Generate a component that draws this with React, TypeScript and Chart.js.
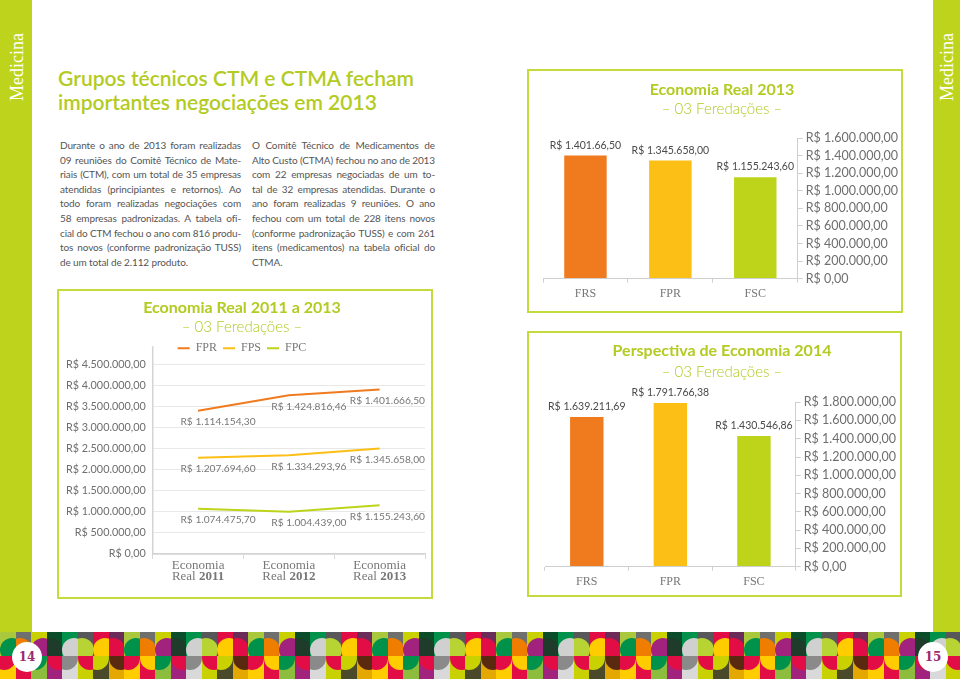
import React, { useEffect, useRef } from 'react';
import { Chart, registerables } from 'chart.js';

Chart.register(...registerables);

// ---------------- data ----------------
const lineCategories = ['2011', '2012', '2013'];
const fprValues = [1114154.3, 1424816.46, 1401666.5];
const fpsValues = [1207694.6, 1334293.96, 1345658.0];
const fpcValues = [1074475.7, 1004439.0, 1155243.6];
const fprLabels = ['R$ 1.114.154,30', 'R$ 1.424.816,46', 'R$ 1.401.666,50'];
const fpsLabels = ['R$ 1.207.694,60', 'R$ 1.334.293,96', 'R$ 1.345.658,00'];
const fpcLabels = ['R$ 1.074.475,70', 'R$ 1.004.439,00', 'R$ 1.155.243,60'];
const lineTickLabels = [
  'R$ 0,00', 'R$ 500.000,00', 'R$ 1.000.000,00', 'R$ 1.500.000,00', 'R$ 2.000.000,00',
  'R$ 2.500.000,00', 'R$ 3.000.000,00', 'R$ 3.500.000,00', 'R$ 4.000.000,00', 'R$ 4.500.000,00',
];

const barCategories = ['FRS', 'FPR', 'FSC'];
const real2013Values = [1401666.5, 1345658.0, 1155243.6];
const real2013Labels = ['R$ 1.401.66,50', 'R$ 1.345.658,00', 'R$ 1.155.243,60'];
const real2013TickLabels = [
  'R$ 0,00', 'R$ 200.000,00', 'R$ 400.000,00', 'R$ 600.000,00', 'R$ 800.000,00',
  'R$ 1.000.000,00', 'R$ 1.200.000,00', 'R$ 1.400.000,00', 'R$ 1.600.000,00',
];
const persp2014Values = [1639211.69, 1791766.38, 1430546.86];
const persp2014Labels = ['R$ 1.639.211,69', 'R$ 1.791.766,38', 'R$ 1.430.546,86'];
const persp2014TickLabels = [
  'R$ 0,00', 'R$ 200.000,00', 'R$ 400.000,00', 'R$ 600.000,00', 'R$ 800.000,00',
  'R$ 1.000.000,00', 'R$ 1.200.000,00', 'R$ 1.400.000,00', 'R$ 1.600.000,00', 'R$ 1.800.000,00',
];

// ---------------- styles ----------------
const STRIP = '#bed41c';
const BORDER = '#c5da3c';
const TITLE = '#b3cb22';
const ORANGE = '#f07b1f';
const YELLOW = '#fcbf15';
const GREEN = '#bdd41a';
const GRAY_TXT = '#6e6e6e';
const SANS = 'Lato';
const SERIF = 'Liberation Serif';

const col1 = [
  'Durante o ano de 2013 foram realizadas',
  '09 reuniões do Comitê Técnico de Mate-',
  'riais (CTM), com um total de 35 empresas',
  'atendidas (principiantes e retornos). Ao',
  'todo foram realizadas negociações com',
  '58 empresas padronizadas. A tabela ofi-',
  'cial do CTM fechou o ano com 816 produ-',
  'tos novos (conforme padronização TUSS)',
  'de um total de 2.112 produto.',
];
const col2 = [
  'O Comitê Técnico de Medicamentos de',
  'Alto Custo (CTMA) fechou no ano de 2013',
  'com 22 empresas negociadas de um to-',
  'tal de 32 empresas atendidas. Durante o',
  'ano foram realizadas 9 reuniões. O ano',
  'fechou com um total de 228 itens novos',
  '(conforme padronização TUSS) e com 261',
  'itens (medicamentos) na tabela oficial do',
  'CTMA.',
];

function barLabelPlugin(labels: string[]) {
  return {
    id: 'barLabels',
    afterDatasetsDraw(chart: any) {
      const { ctx } = chart;
      const meta = chart.getDatasetMeta(0);
      ctx.save();
      ctx.font = `10.5px ${SANS}`;
      ctx.fillStyle = '#4a4a4a';
      ctx.textAlign = 'center';
      ctx.textBaseline = 'bottom';
      meta.data.forEach((el: any, i: number) => ctx.fillText(labels[i], el.x, el.y - 5));
      ctx.restore();
    },
  };
}

function barConfig(
  values: number[], labels: string[], tickLabels: string[], max: number,
  title: string, barPct: number, padding: any, subPad: any, titlePadTop: number,
) {
  const step = 200000;
  return {
    type: 'bar',
    data: {
      labels: barCategories,
      datasets: [{ data: values, backgroundColor: [ORANGE, YELLOW, GREEN], barPercentage: barPct, categoryPercentage: 1 }],
    },
    options: {
      responsive: false,
      animation: false,
      layout: { padding },
      plugins: {
        legend: { display: false },
        tooltip: { enabled: false },
        title: { display: true, text: title, color: TITLE, font: { family: SANS, size: 16, weight: 'bold' }, padding: { top: titlePadTop, bottom: 0 } },
        subtitle: { display: true, text: '– 03 Feredações –', color: TITLE, font: { family: SANS, size: 15, weight: '300' }, padding: subPad },
      },
      scales: {
        x: {
          offset: true,
          grid: { display: true, drawOnChartArea: false, offset: true, tickLength: 4, color: '#cfcfcf' },
          border: { color: '#cfcfcf' },
          ticks: { color: '#777', padding: 4, font: { family: SERIF, size: 12 } },
        },
        y: {
          position: 'right',
          min: 0,
          max,
          grid: { drawOnChartArea: false, tickLength: 5, color: '#cfcfcf' },
          border: { color: '#cfcfcf' },
          ticks: {
            stepSize: step,
            autoSkip: false,
            padding: 3,
            color: GRAY_TXT,
            font: { family: SANS, size: 12.5 },
            callback: (v: number) => tickLabels[Math.round(v / step)],
          },
        },
      },
    },
    plugins: [barLabelPlugin(labels)],
  };
}

const lineDecorPlugin = {
  id: 'lineDecor',
  afterDatasetsDraw(chart: any) {
    const { ctx, chartArea } = chart;
    const sets = [fpcLabels, fpsLabels, fprLabels];
    ctx.save();
    // axis extension above top gridline
    ctx.strokeStyle = '#d4d4d4';
    ctx.lineWidth = 1.5;
    ctx.beginPath();
    ctx.moveTo(chartArea.left, chartArea.top);
    ctx.lineTo(chartArea.left, chartArea.top - 18);
    ctx.stroke();
    // point labels
    ctx.font = `10.2px ${SANS}`;
    ctx.fillStyle = '#777';
    ctx.textBaseline = 'middle';
    sets.forEach((labels, di) => {
      const pts = chart.getDatasetMeta(di).data;
      pts.forEach((pt: any, i: number) => {
        if (i === pts.length - 1) {
          ctx.textAlign = 'right';
          ctx.fillText(labels[i], chartArea.right, pt.y + 11);
        } else {
          ctx.textAlign = 'center';
          ctx.fillText(labels[i], pt.x + 20, pt.y + 11);
        }
      });
    });
    // x labels
    const xs = chart.scales.x;
    const normal = `13px ${SERIF}`;
    const bold = `bold 13px ${SERIF}`;
    lineCategories.forEach((year, i) => {
      const x = xs.getPixelForValue(i);
      ctx.textAlign = 'center';
      ctx.font = normal;
      ctx.fillText('Economia', x, chartArea.bottom + 12);
      const a = 'Real ';
      const wa = ctx.measureText(a).width;
      ctx.font = bold;
      const wb = ctx.measureText(year).width;
      const start = x - (wa + wb) / 2;
      ctx.textAlign = 'left';
      ctx.font = normal;
      ctx.fillText(a, start, chartArea.bottom + 23);
      ctx.font = bold;
      ctx.fillText(year, start + wa, chartArea.bottom + 23);
    });
    ctx.restore();
  },
};

function lineConfig() {
  const step = 500000;
  const ds = (label: string, data: number[], color: string) => ({
    label, data, borderColor: color, backgroundColor: color, borderWidth: 2, pointRadius: 0, tension: 0,
  });
  return {
    type: 'line',
    data: {
      labels: lineCategories,
      datasets: [ds('FPC', fpcValues, GREEN), ds('FPS', fpsValues, YELLOW), ds('FPR', fprValues, ORANGE)],
    },
    options: {
      responsive: false,
      animation: false,
      layout: { padding: { left: 0, right: 6, top: 0, bottom: 38 } },
      plugins: {
        tooltip: { enabled: false },
        title: { display: true, text: 'Economia Real 2011 a 2013', color: TITLE, font: { family: SANS, size: 16, weight: 'bold' }, padding: { top: 7, bottom: 0 } },
        subtitle: { display: true, text: '– 03 Feredações –', color: TITLE, font: { family: SANS, size: 15, weight: '300' }, padding: { top: 1, bottom: 0 } },
        legend: {
          display: true,
          reverse: true,
          labels: {
            usePointStyle: true,
            pointStyle: 'line',
            pointStyleWidth: 12,
            boxHeight: 12,
            padding: 6,
            color: '#777',
            font: { family: SERIF, size: 12 },
          },
        },
      },
      scales: {
        x: {
          offset: true,
          grid: { display: true, drawOnChartArea: false, offset: true, tickLength: 5, color: '#d9d9d9' },
          border: { color: '#d4d4d4', width: 1.5 },
          ticks: { display: false },
        },
        y: {
          stacked: true,
          min: 0,
          max: 4500000,
          grid: { color: '#e8e8e8', drawTicks: false },
          border: { color: '#d4d4d4', width: 1.5 },
          ticks: {
            stepSize: step,
            autoSkip: false,
            padding: 7,
            color: GRAY_TXT,
            font: { family: SANS, size: 10.8 },
            callback: (v: number) => lineTickLabels[Math.round(v / step)],
          },
        },
      },
    },
    plugins: [lineDecorPlugin],
  };
}

function ChartBox({ left, top, width, height, make }: any) {
  const ref = useRef<HTMLCanvasElement | null>(null);
  useEffect(() => {
    const chart = new Chart(ref.current as HTMLCanvasElement, make() as any);
    return () => chart.destroy();
  }, []);
  return (
    <div style={{ position: 'absolute', left, top, width, height, border: `2px solid ${BORDER}`, boxSizing: 'border-box', background: '#fff' }}>
      <canvas ref={ref} width={width - 4} height={height - 4} style={{ display: 'block', width: width - 4, height: height - 4 }} />
    </div>
  );
}

const patternTop = ['#a9c83b', '#6f6f6e', '#c9d200', '#0b4d2b', '#00914a', '#58585a', '#e30d45', '#6b2c5a'];
const patternTopShape = ['#00914a', '#ee7d00', '#a1237e', '#1f3b2a', '#d0d0d0', '#b7d334', '#ffcc00', '#e30d45'];
const patternBot = ['#ffcc00', '#e30d45', '#8dbd3c', '#a1237e', '#d9d9d9', '#c9d200', '#4a4a2a', '#e5a800'];
const patternBotShape = ['#e30d45', '#ffcc00', '#00914a', '#e30d45', '#8a8a8a', '#e30d45', '#c9d200', '#5a2a10'];

function Pattern() {
  const cells: any[] = [];
  const w = 15.5;
  for (let i = 0; i < 62; i++) {
    const k = i % 8;
    cells.push(
      <div key={'t' + i} style={{ position: 'absolute', left: i * w, top: 0, width: w + 0.5, height: 24, background: patternTop[k], overflow: 'hidden' }}>
        <div style={{ position: 'absolute', left: (i % 2) * -8, top: 6, width: 24, height: 24, borderRadius: '50%', background: patternTopShape[k] }} />
      </div>,
      <div key={'b' + i} style={{ position: 'absolute', left: i * w, top: 24, width: w + 0.5, height: 24, background: patternBot[k], overflow: 'hidden' }}>
        <div style={{ position: 'absolute', left: ((i + 1) % 2) * -8, top: -10, width: 24, height: 24, borderRadius: '50%', background: patternBotShape[k] }} />
      </div>,
    );
  }
  return (
    <div style={{ position: 'absolute', left: 0, top: 632, width: 960, height: 47, overflow: 'hidden' }}>
      {cells}
    </div>
  );
}

function Column({ left, width, lines }: any) {
  return (
    <div style={{ position: 'absolute', left, top: 138, width, fontFamily: SANS, fontSize: 10, letterSpacing: '-0.12px', lineHeight: '14.6px', color: '#555' }}>
      {lines.map((l: string, i: number) => (
        <div key={i} style={{ textAlign: 'justify', textAlignLast: i === lines.length - 1 ? 'left' : 'justify', whiteSpace: 'nowrap' } as any}>{l}</div>
      ))}
    </div>
  );
}

export default function App() {
  const vertical = (x: number) => ({
    position: 'absolute' as const, left: x, top: 67, transform: 'translate(-50%,-50%) rotate(-90deg)',
    whiteSpace: 'nowrap' as const, fontFamily: SERIF, fontSize: 18, color: '#fff',
  });
  const pageNum = (x: number, t: string) => (
    <div style={{ position: 'absolute', left: x - 15, top: 642, width: 30, height: 30, borderRadius: '50%', background: '#fff', display: 'flex', alignItems: 'center', justifyContent: 'center', fontFamily: 'DejaVu Serif', fontWeight: 'bold', fontSize: 12, color: '#9c2a6e' }}>{t}</div>
  );
  return (
    <div style={{ position: 'absolute', left: 0, top: 0, width: 960, height: 679, background: '#fff', overflow: 'hidden' }}>
      <div style={{ position: 'absolute', left: 0, top: 0, width: 32, height: 632, background: STRIP }} />
      <div style={{ position: 'absolute', left: 933, top: 0, width: 27, height: 632, background: STRIP }} />
      <div style={vertical(17)}>Medicina</div>
      <div style={vertical(947)}>Medicina</div>

      <div style={{ position: 'absolute', left: 58, top: 66, fontFamily: SANS, fontWeight: 600, fontSize: 21, lineHeight: '24px', color: TITLE, whiteSpace: 'nowrap' }}>
        Grupos técnicos CTM e CTMA fecham<br />importantes negociações em 2013
      </div>

      <Column left={60} width={181} lines={col1} />
      <Column left={252} width={183} lines={col2} />

      <ChartBox left={57} top={289} width={376} height={310} make={lineConfig} />
      <ChartBox left={527} top={69} width={376} height={244}
        make={() => barConfig(real2013Values, real2013Labels, real2013TickLabels, 1600000, 'Economia Real 2013', 0.5,
          { left: 14, right: 0, top: 0, bottom: 6 }, { top: 1, bottom: 20 }, 9)} />
      <ChartBox left={527} top={331} width={375} height={266}
        make={() => barConfig(persp2014Values, persp2014Labels, persp2014TickLabels, 1800000, 'Perspectiva de Economia 2014', 0.4,
          { left: 16, right: 1, top: 0, bottom: 2 }, { top: 3, bottom: 21 }, 8)} />

      <Pattern />
      {pageNum(27, '14')}
      {pageNum(933, '15')}
    </div>
  );
}
